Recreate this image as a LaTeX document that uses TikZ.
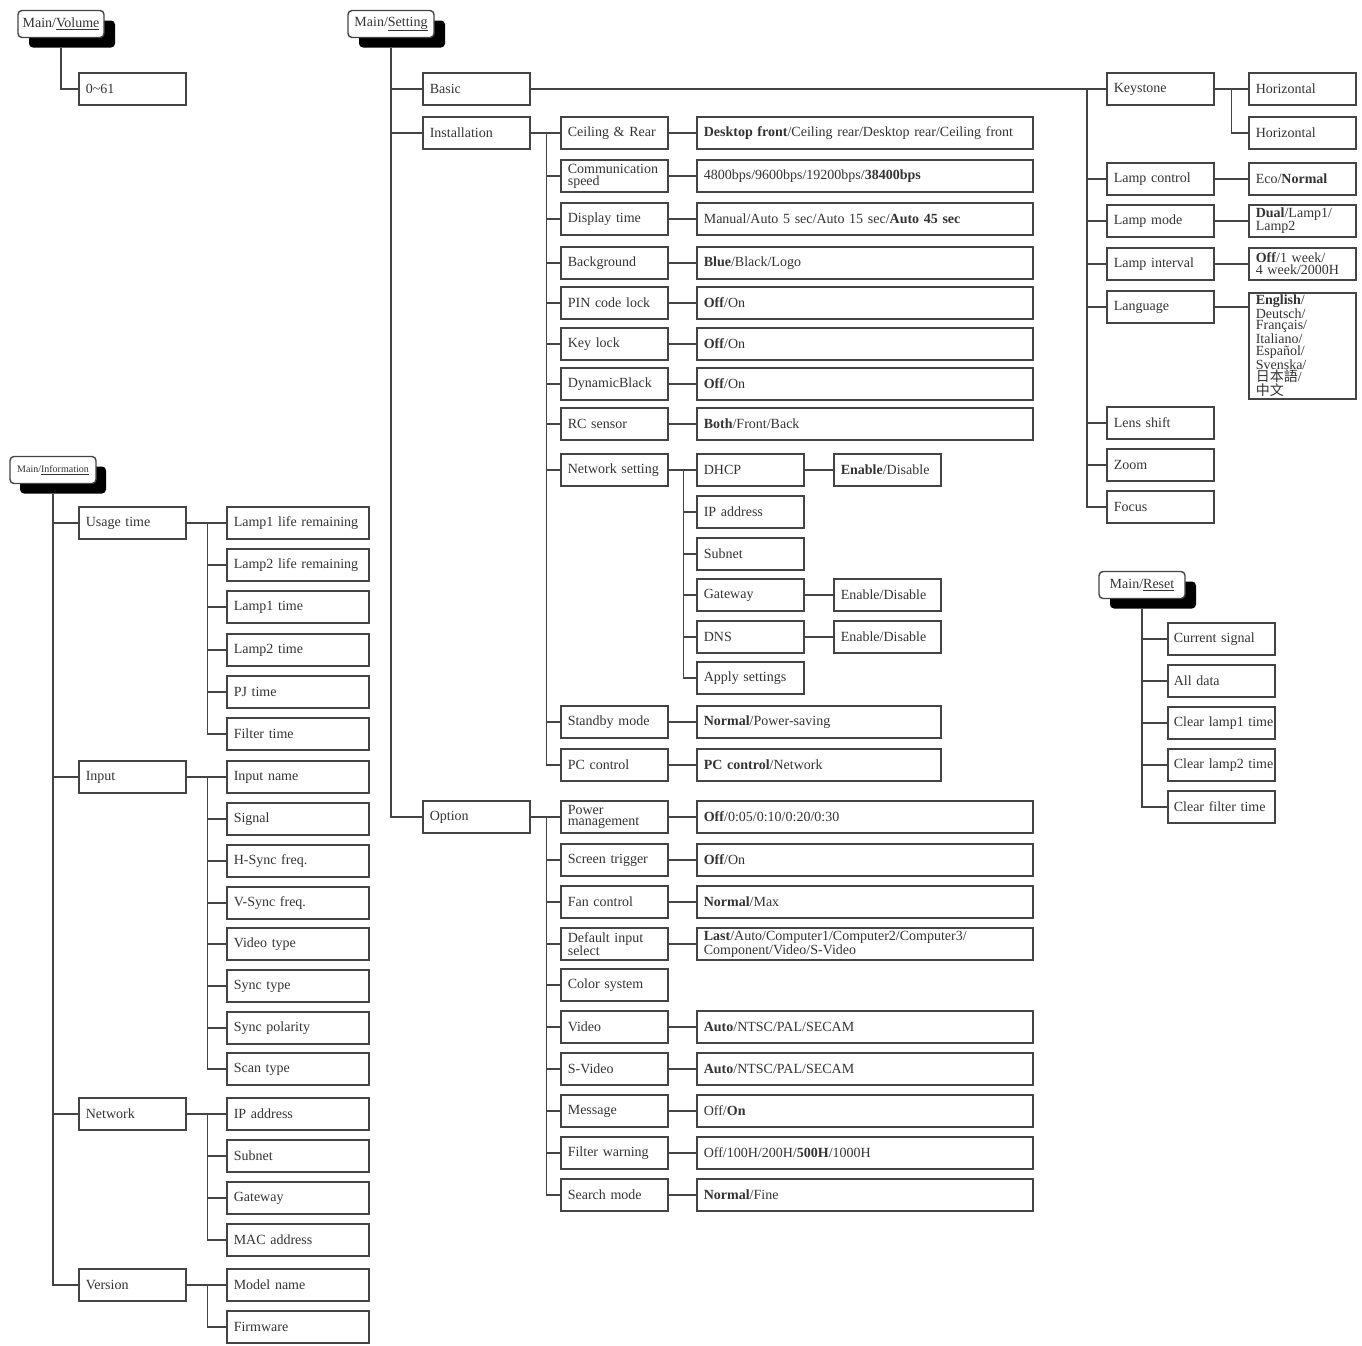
\documentclass[tikz,border=0pt]{standalone}
\usepackage{fontspec}
\setmainfont{Liberation Serif}
\newfontfamily\cjkfont{Noto Sans CJK SC}
\usetikzlibrary{positioning, calc}
\definecolor{cline}{HTML}{444444}
\definecolor{ctext}{HTML}{333333}
\tikzset{
  every picture/.style={line width=1.5pt},
  box/.style={draw=cline, line width=1.6pt, text=ctext, text width=#1, minimum height=32pt, align=left, inner xsep=7pt, inner ysep=1pt, anchor=west, font=\fontsize{14}{11.8}\selectfont},
  box/.default=93pt,
  link/.style={draw=cline, line width=1.5pt},
  menu/.style={draw=cline, fill=white, rounded corners=4pt, line width=1.4pt, minimum width=86pt, minimum height=27pt, inner sep=1pt, text=ctext, font=\fontsize{14}{14}\selectfont},
  shade/.style={fill=black, rounded corners=4pt, minimum width=86pt, minimum height=27pt},
}

\begin{document}
\begin{tikzpicture}[x=1pt, y=-1pt]
  \useasboundingbox (0,0) rectangle (1362,1345);

  % Main/Volume
  \node[shade] (vols) at (72,34) {};
  \node[menu] (vol) at (61,24) {Main/\underline{Volume}};
  \node[box] (v0) at (78,89) {0\textasciitilde61};
  \draw[link] (vol.center |- vols.south) |- (v0.west);

  % Main/Setting
  \node[shade] (sets) at (402,34) {};
  \node[menu] (set) at (391,24) {Main/\underline{Setting}};
  \node[box] (basic) at (422,89) {Basic};
  \node[box] (inst) at (422,133) {Installation};
  \node[box] (opt) at (422,817) {Option};
  \foreach \nm in {basic,inst,opt}
    \draw[link] (set.center |- sets.south) |- (\nm.west);

  % Basic
  \coordinate (bj) at (1087,89);
  \foreach \nm/\y/\txt in {key/89/Keystone, lctl/179/Lamp control, lmode/221/Lamp mode,
      lint/264/Lamp interval, lang/307/Language, lens/423/Lens shift, zoom/465/Zoom, focus/507/Focus} {
    \node[box] (\nm) at (1106,\y) {\txt};
    \draw[link] (basic.east) -- (bj) |- (\nm.west);
  }
  \node[box] (kh1) at (1248,89) {Horizontal};
  \node[box] (kh2) at (1248,133) {Horizontal};
  \draw[link] (key.east) -- (kh1.west);
  \draw[link] (key.east) -- ++(17,0) |- (kh2.west);
  \foreach \nm/\y/\txt in {lctl/179/{Eco/\textbf{Normal}}, lmode/221/{\textbf{Dual}/Lamp1/\\Lamp2},
      lint/264/{\textbf{Off}/1 week/\\4 week/2000H}} {
    \node[box] (\nm-v) at (1248,\y) {\txt};
    \draw[link] (\nm.east) -- (\nm-v.west);
  }
  \node[box, anchor=north west, minimum height=106pt] (lang-v) at (1248,292)
    {\textbf{English}/\\Deutsch/\\Français/\\Italiano/\\Español/\\Svenska/\\{\cjkfont 日本語}/\\{\cjkfont 中文}};
  \draw[link] (lang.east) -- (lang.east -| lang-v.west);

  % Installation
  \foreach \nm/\y/\txt in {ceil/133/Ceiling \& Rear, comm/176/{Communication\\speed}, disp/219/Display time,
      bg/263/Background, pin/303/PIN code lock, klock/344/Key lock, dyn/384/DynamicBlack, rc/424/RC sensor,
      net/470/Network setting, stby/722/Standby mode, pcc/765/PC control} {
    \node[box] (\nm) at (560,\y) {\txt};
    \draw[link] (inst.east) -- ++(16,0) |- (\nm.west);
  }
  \foreach \nm/\w/\txt in {ceil/322pt/{\textbf{Desktop front}/Ceiling rear/Desktop rear/Ceiling front},
      comm/322pt/{4800bps/9600bps/19200bps/\textbf{38400bps}},
      disp/322pt/{Manual/Auto 5 sec/Auto 15 sec/\textbf{Auto 45 sec}},
      bg/322pt/{\textbf{Blue}/Black/Logo}, pin/322pt/{\textbf{Off}/On}, klock/322pt/{\textbf{Off}/On},
      dyn/322pt/{\textbf{Off}/On}, rc/322pt/{\textbf{Both}/Front/Back},
      stby/230pt/{\textbf{Normal}/Power-saving}, pcc/230pt/{\textbf{PC control}/Network}} {
    \node[box=\w] (\nm-v) at (\nm.west -| 696,0) {\txt};
    \draw[link] (\nm.east) -- (\nm-v.west);
  }

  % Network setting
  \foreach \nm/\y/\txt in {dhcp/470/DHCP, ip/512/IP address, sub/554/Subnet, gw/595/Gateway,
      dns/637/DNS, apply/678/Apply settings} {
    \node[box] (\nm) at (696,\y) {\txt};
    \draw[link] (net.east) -- ++(15,0) |- (\nm.west);
  }
  \foreach \nm/\txt in {dhcp/{\textbf{Enable}/Disable}, gw/{Enable/Disable}, dns/{Enable/Disable}} {
    \node[box] (\nm-v) at (\nm.west -| 833,0) {\txt};
    \draw[link] (\nm.east) -- (\nm-v.west);
  }

  % Option
  \foreach \nm/\y/\txt in {pwr/817/{Power\\management}, scr/860/Screen trigger, fan/902/Fan control,
      dis/944/{Default input\\select}, col/985/Color system, vid/1027/Video, svid/1069/S-Video,
      msg/1111/Message, fw/1153/Filter warning, srch/1195/Search mode} {
    \node[box] (\nm) at (560,\y) {\txt};
    \draw[link] (opt.east) -- ++(16,0) |- (\nm.west);
  }
  \foreach \nm/\txt in {pwr/{\textbf{Off}/0:05/0:10/0:20/0:30}, scr/{\textbf{Off}/On}, fan/{\textbf{Normal}/Max},
      dis/{\textbf{Last}/Auto/Computer1/Computer2/Computer3/\\Component/Video/S-Video},
      vid/{\textbf{Auto}/NTSC/PAL/SECAM}, svid/{\textbf{Auto}/NTSC/PAL/SECAM}, msg/{Off/\textbf{On}},
      fw/{Off/100H/200H/\textbf{500H}/1000H}, srch/{\textbf{Normal}/Fine}} {
    \node[box=322pt] (\nm-v) at (\nm.west -| 696,0) {\txt};
    \draw[link] (\nm.east) -- (\nm-v.west);
  }

  % Main/Information
  \node[shade] (infs) at (63,480) {};
  \node[menu, font=\fontsize{10}{10}\selectfont] (inf) at (53,470) {Main/\underline{Information}};
  \foreach \nm/\y/\txt in {use/523/Usage time, inp/777/Input, inet/1114/Network, ver/1285/Version} {
    \node[box] (\nm) at (78,\y) {\txt};
    \draw[link] (inf.center |- infs.south) |- (\nm.west);
  }
  \foreach \nm/\y/\txt in {l1r/523/Lamp1 life remaining, l2r/565/Lamp2 life remaining, l1t/607/Lamp1 time,
      l2t/650/Lamp2 time, pjt/692/PJ time, ft/734/Filter time} {
    \node[box=128pt] (\nm) at (226,\y) {\txt};
    \draw[link] (use.east) -- ++(21,0) |- (\nm.west);
  }
  \foreach \nm/\y/\txt in {inm/777/Input name, sig/819/Signal, hs/861/H-Sync freq., vs/903/V-Sync freq.,
      vt/944/Video type, st/986/Sync type, sp/1028/Sync polarity, sct/1069/Scan type} {
    \node[box=128pt] (\nm) at (226,\y) {\txt};
    \draw[link] (inp.east) -- ++(21,0) |- (\nm.west);
  }
  \foreach \nm/\y/\txt in {nip/1114/IP address, nsub/1156/Subnet, ngw/1198/Gateway, nmac/1240/MAC address} {
    \node[box=128pt] (\nm) at (226,\y) {\txt};
    \draw[link] (inet.east) -- ++(21,0) |- (\nm.west);
  }
  \foreach \nm/\y/\txt in {mod/1285/Model name, fwr/1327/Firmware} {
    \node[box=128pt] (\nm) at (226,\y) {\txt};
    \draw[link] (ver.east) -- ++(21,0) |- (\nm.west);
  }

  % Main/Reset
  \node[shade] (rsts) at (1153,595) {};
  \node[menu] (rst) at (1142,585) {Main/\underline{Reset}};
  \foreach \nm/\y/\txt in {cs/639/Current signal, ad/681/All data, c1/723/Clear lamp1 time,
      c2/765/Clear lamp2 time, cf/807/Clear filter time} {
    \node[box, inner xsep=6pt, text width=95pt] (\nm) at (1167,\y) {\mbox{\txt}};
    \draw[link] (rst.center |- rsts.south) |- (\nm.west);
  }
\end{tikzpicture}
\end{document}
